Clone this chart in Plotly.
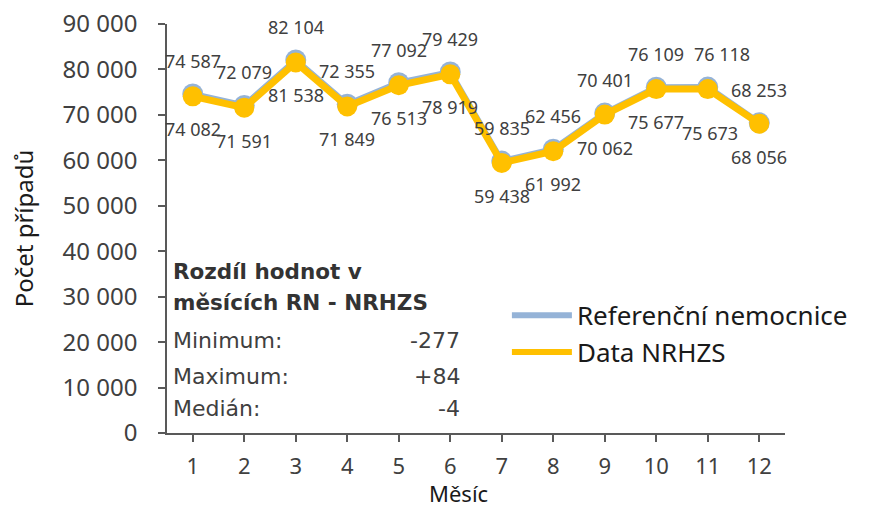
import plotly.graph_objects as go

months = [1, 2, 3, 4, 5, 6, 7, 8, 9, 10, 11, 12]
ref_values = [74587, 72079, 82104, 72355, 77092, 79429, 59835, 62456, 70401, 76109, 76118, 68253]
nrhzs_values = [74082, 71591, 81538, 71849, 76513, 78919, 59438, 61992, 70062, 75677, 75673, 68056]
series_names = ["Referenční nemocnice", "Data NRHZS"]
y_ticks = [0, 10000, 20000, 30000, 40000, 50000, 60000, 70000, 80000, 90000]
x_title = "Měsíc"
y_title = "Počet případů"
stat_title = ["Rozdíl hodnot v", "měsících RN - NRHZS"]
stat_labels = ["Minimum:", "Maximum:", "Medián:"]
stat_values = ["-277", "+84", "-4"]

BLUE = "#95B3D7"
YELLOW = "#FFC000"
TXT = "#404040"


def fmt(v):
    return f"{v:,}".replace(",", " ")


fig = go.Figure()
fig.add_trace(go.Scatter(x=months, y=ref_values, mode="lines+markers", showlegend=False,
                         line=dict(color=BLUE, width=6), marker=dict(color=BLUE, size=21),
                         cliponaxis=False))
fig.add_trace(go.Scatter(x=months, y=nrhzs_values, mode="lines+markers", showlegend=False,
                         line=dict(color=YELLOW, width=7), marker=dict(color=YELLOW, size=20),
                         cliponaxis=False))
# legend entries (line only, as in the reference)
fig.add_trace(go.Scatter(x=[None], y=[None], mode="lines", name=series_names[0],
                         line=dict(color=BLUE, width=6)))
fig.add_trace(go.Scatter(x=[None], y=[None], mode="lines", name=series_names[1],
                         line=dict(color=YELLOW, width=6)))

annotations = []
# label shifts: Excel-like placement; labels of month 11 sit a bit apart to avoid collisions
for m, v in zip(months, ref_values):
    annotations.append(dict(x=m, y=v, text=fmt(v), showarrow=False, yshift=33,
                            xshift=14 if m == 11 else 0,
                            font=dict(family="Noto Sans", size=18, color=TXT)))
for m, v in zip(months, nrhzs_values):
    annotations.append(dict(x=m, y=v, text=fmt(v), showarrow=False,
                            yshift=-44 if m == 11 else -33,
                            xshift=2 if m == 11 else 0,
                            font=dict(family="Noto Sans", size=18, color=TXT)))

# statistics box
title_y = [0.394, 0.318]
for t, yy in zip(stat_title, title_y):
    annotations.append(dict(xref="paper", yref="paper", x=0.006, y=yy, text=f"<b>{t}</b>",
                            showarrow=False, xanchor="left", yanchor="middle",
                            font=dict(family="DejaVu Sans", size=21.5, color="#333333")))
row_y = [0.225, 0.139, 0.061]
for lab, val, yy in zip(stat_labels, stat_values, row_y):
    annotations.append(dict(xref="paper", yref="paper", x=0.006, y=yy, text=lab,
                            showarrow=False, xanchor="left", yanchor="middle",
                            font=dict(family="DejaVu Sans", size=22, color=TXT)))
    annotations.append(dict(xref="paper", yref="paper", x=0.478, y=yy, text=val,
                            showarrow=False, xanchor="right", yanchor="middle",
                            font=dict(family="DejaVu Sans", size=22, color=TXT)))

# x-axis title
annotations.append(dict(xref="paper", yref="paper", x=0.471, y=-0.147, text=x_title,
                        showarrow=False, xanchor="center", yanchor="middle",
                        font=dict(family="Noto Sans", size=22, color="#1a1a1a")))

fig.update_layout(
    width=869, height=508,
    margin=dict(l=167, r=84, t=24, b=75),
    paper_bgcolor="white", plot_bgcolor="white",
    separators=", ",
    annotations=annotations,
    legend=dict(x=0.55, y=0.345, xanchor="left", yanchor="top",
                font=dict(family="Noto Sans", size=26, color="#1a1a1a"),
                bgcolor="rgba(0,0,0,0)", itemwidth=60, tracegroupgap=0),
    xaxis=dict(range=[0.5, 12.5], tickmode="array", tickvals=months,
               ticktext=[str(m) for m in months], automargin=False,
               showgrid=False, zeroline=False, showline=True, linecolor="#595959", linewidth=1.5,
               ticks="outside", ticklen=7, tickcolor="#595959", tickwidth=1.5,
               tickson="boundaries", ticklabelstandoff=6,
               tickfont=dict(family="Noto Sans", size=22, color=TXT)),
    yaxis=dict(range=[0, 90000], tickmode="array", tickvals=y_ticks,
               tickformat=",d", automargin=False,
               showgrid=False, zeroline=False, showline=True, linecolor="#595959", linewidth=1.5,
               ticks="outside", ticklen=7, tickcolor="#595959", tickwidth=1.5,
               ticklabelstandoff=16,
               tickfont=dict(family="Noto Sans", size=24, color=TXT),
               title=dict(text=y_title, standoff=22,
                          font=dict(family="Noto Sans", size=24, color="#1a1a1a"))),
)

fig.write_html("out.html", config={"displayModeBar": False},
               post_script="document.body.style.margin='0px';")
